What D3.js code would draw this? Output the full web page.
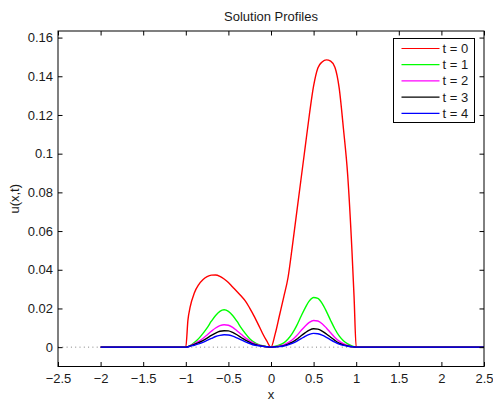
<!DOCTYPE html>
<html>
<head>
<meta charset="utf-8">
<script src="https://cdn.jsdelivr.net/npm/d3@7"></script>
<style>
  html, body { margin: 0; padding: 0; background: #fff; }
  svg { display: block; font-family: "Liberation Sans", Arial, Helvetica, sans-serif; }
</style>
</head>
<body>
<svg id="chart" width="493" height="403"></svg>
<script>
// Sample positions along x (shared by every profile)
const xs = [-2, -1, -0.975, -0.95, -0.9, -0.85, -0.8, -0.75, -0.7, -0.65, -0.6, -0.55, -0.5,
  -0.45, -0.4, -0.35, -0.3, -0.25, -0.2, -0.15, -0.1, -0.05, 0, 0.05, 0.1, 0.15, 0.2, 0.25,
  0.3, 0.35, 0.4, 0.45, 0.5, 0.55, 0.6, 0.65, 0.7, 0.75, 0.8, 0.85, 0.9, 0.95, 0.975, 1, 2.5];

// u(x,t) at each time level
const u0 = [0, 0, 0.014, 0.0205, 0.028, 0.0322, 0.0348, 0.0364, 0.0372, 0.0373, 0.0366, 0.0352, 0.0334,
  0.0311, 0.0288, 0.0264, 0.0238, 0.0202, 0.0162, 0.0118, 0.0072, 0.0032, 0, 0.007, 0.0165, 0.026,
  0.036, 0.052, 0.069, 0.086, 0.103, 0.120, 0.135, 0.1443, 0.1474, 0.1485, 0.1478, 0.1447, 0.134,
  0.113, 0.089, 0.050, 0.026, 0, 0];
const u1 = [0, 0, 0.0003, 0.0008, 0.0024, 0.0044, 0.0070, 0.0100, 0.0134, 0.0164, 0.0185, 0.0193, 0.0185,
  0.0164, 0.0134, 0.0100, 0.0070, 0.0044, 0.0026, 0.0014, 0.0007, 0.0003, 0, 0.0005, 0.0011, 0.0022,
  0.0042, 0.0071, 0.0110, 0.0157, 0.0202, 0.0239, 0.0257, 0.0252, 0.0226, 0.0185, 0.0138, 0.0094,
  0.0058, 0.0033, 0.0017, 0.0006, 0.0002, 0, 0];
const u2 = [0, 0, 0.0002, 0.0007, 0.0018, 0.0030, 0.0045, 0.0063, 0.0082, 0.0099, 0.0111, 0.0116, 0.0113,
  0.0102, 0.0085, 0.0067, 0.0048, 0.0033, 0.0020, 0.0012, 0.0006, 0.0002, 0, 0.0003, 0.0006, 0.0012,
  0.0023, 0.0038, 0.0059, 0.0084, 0.0108, 0.0128, 0.0138, 0.0135, 0.0121, 0.0099, 0.0074, 0.0050,
  0.0031, 0.0018, 0.0009, 0.0003, 0.0001, 0, 0];
const u3 = [0, 0, 0.0002, 0.0006, 0.0014, 0.0023, 0.0034, 0.0047, 0.0061, 0.0073, 0.0082, 0.0085, 0.0084,
  0.0076, 0.0064, 0.0050, 0.0036, 0.0025, 0.0015, 0.0009, 0.0005, 0.0002, 0, 0.0002, 0.0004, 0.0008,
  0.0016, 0.0026, 0.0040, 0.0058, 0.0074, 0.0088, 0.0095, 0.0093, 0.0083, 0.0068, 0.0051, 0.0035,
  0.0021, 0.0012, 0.0006, 0.0002, 0.0001, 0, 0];
const u4 = [0, 0, 0.0001, 0.0005, 0.0010, 0.0017, 0.0025, 0.0035, 0.0045, 0.0055, 0.0061, 0.0064, 0.0063,
  0.0057, 0.0048, 0.0038, 0.0027, 0.0019, 0.0011, 0.0007, 0.0004, 0.0002, 0, 0.0001, 0.0003, 0.0006,
  0.0012, 0.0020, 0.0030, 0.0043, 0.0056, 0.0066, 0.0071, 0.0069, 0.0062, 0.0051, 0.0038, 0.0026,
  0.0016, 0.0009, 0.0005, 0.0002, 0.0001, 0, 0];

const seriesNames = ["t = 0", "t = 1", "t = 2", "t = 3", "t = 4"];
const seriesColors = ["#ff0000", "#00ff00", "#ff00ff", "#000000", "#0000ff"];
const seriesValues = [u0, u1, u2, u3, u4];

const xTicks = [-2.5, -2, -1.5, -1, -0.5, 0, 0.5, 1, 1.5, 2, 2.5];
const yTicks = [0, 0.02, 0.04, 0.06, 0.08, 0.1, 0.12, 0.14, 0.16];
const xDomain = [-2.5, 2.5];
const yDomain = [-0.01, 0.1634];

const svg = d3.select("#chart");
const L = 58, R = 484, T = 31, B = 366.5;
const fontSize = 13;

const x = d3.scaleLinear().domain(xDomain).range([L, R]);
const y = d3.scaleLinear().domain(yDomain).range([B, T]);

const fmt = v => {
  const s = String(Math.round(v * 1000) / 1000);
  return s.replace("-", "\u2212");
};

// zero reference line
svg.append("line")
  .attr("x1", x(xDomain[0])).attr("x2", x(xDomain[1]))
  .attr("y1", y(0)).attr("y2", y(0))
  .attr("stroke", "#808080").attr("stroke-width", 1)
  .attr("stroke-dasharray", "1,3.3");

// profiles
const line = d3.line()
  .x((d, i) => x(xs[i]))
  .y(d => y(d))
  .curve(d3.curveMonotoneX);

svg.append("clipPath").attr("id", "plotClip")
  .append("rect").attr("x", L).attr("y", T).attr("width", R - L).attr("height", B - T);

svg.append("g").attr("clip-path", "url(#plotClip)")
  .selectAll("path")
  .data(seriesValues)
  .join("path")
  .attr("d", d => line(d))
  .attr("fill", "none")
  .attr("stroke", (d, i) => seriesColors[i])
  .attr("stroke-width", 1.4)
  .attr("stroke-linejoin", "round");

// axes: ticks inward on all four sides
const tickLen = 4.5;

const xAxisBottom = d3.axisBottom(x).tickValues(xTicks).tickSize(-tickLen).tickFormat(fmt).tickPadding(7.5);
const xAxisTop = d3.axisTop(x).tickValues(xTicks).tickSize(-tickLen).tickFormat("");
const yAxisLeft = d3.axisLeft(y).tickValues(yTicks).tickSize(-tickLen).tickFormat(fmt).tickPadding(5);
const yAxisRight = d3.axisRight(y).tickValues(yTicks).tickSize(-tickLen).tickFormat("");

function styleAxis(g) {
  g.select(".domain").remove();
  g.selectAll(".tick line").attr("stroke", "#000");
  g.selectAll(".tick text").attr("fill", "#1a1a1a").attr("font-size", fontSize)
    .attr("font-family", "'Liberation Sans', Arial, sans-serif");
}

svg.append("g").attr("transform", `translate(0,${B})`).call(xAxisBottom).call(styleAxis);
svg.append("g").attr("transform", `translate(0,${T})`).call(xAxisTop).call(styleAxis);
svg.append("g").attr("transform", `translate(${L},0)`).call(yAxisLeft).call(styleAxis);
svg.append("g").attr("transform", `translate(${R},0)`).call(yAxisRight).call(styleAxis);

// frame
svg.append("rect")
  .attr("x", L).attr("y", T).attr("width", R - L).attr("height", B - T)
  .attr("fill", "none").attr("stroke", "#000").attr("stroke-width", 1);

// title and axis labels
svg.append("text").attr("x", (L + R) / 2).attr("y", 21)
  .attr("text-anchor", "middle").attr("font-size", fontSize).attr("fill", "#1a1a1a")
  .text("Solution Profiles");
svg.append("text").attr("x", (L + R) / 2).attr("y", 399)
  .attr("text-anchor", "middle").attr("font-size", fontSize).attr("fill", "#1a1a1a")
  .text("x");
svg.append("text")
  .attr("transform", `translate(19,${(T + B) / 2}) rotate(-90)`)
  .attr("text-anchor", "middle").attr("font-size", fontSize).attr("fill", "#1a1a1a")
  .text("u(x,t)");

// legend
const lgX = 393.5, lgY = 38.5, lgW = 81, lgH = 84;
const lg = svg.append("g");
lg.append("rect").attr("x", lgX).attr("y", lgY).attr("width", lgW).attr("height", lgH)
  .attr("fill", "#fff").attr("stroke", "#000").attr("stroke-width", 1);
const rowY = i => lgY + 10 + i * 16.2;
lg.selectAll("line.key").data(seriesNames).join("line")
  .attr("class", "key")
  .attr("x1", lgX + 8).attr("x2", lgX + 46)
  .attr("y1", (d, i) => rowY(i)).attr("y2", (d, i) => rowY(i))
  .attr("stroke", (d, i) => seriesColors[i]).attr("stroke-width", 1.2);
lg.selectAll("text.key").data(seriesNames).join("text")
  .attr("class", "key")
  .attr("x", lgX + 49).attr("y", (d, i) => rowY(i))
  .attr("dy", "0.35em").attr("font-size", fontSize).attr("fill", "#1a1a1a")
  .text(d => d);
</script>
</body>
</html>
